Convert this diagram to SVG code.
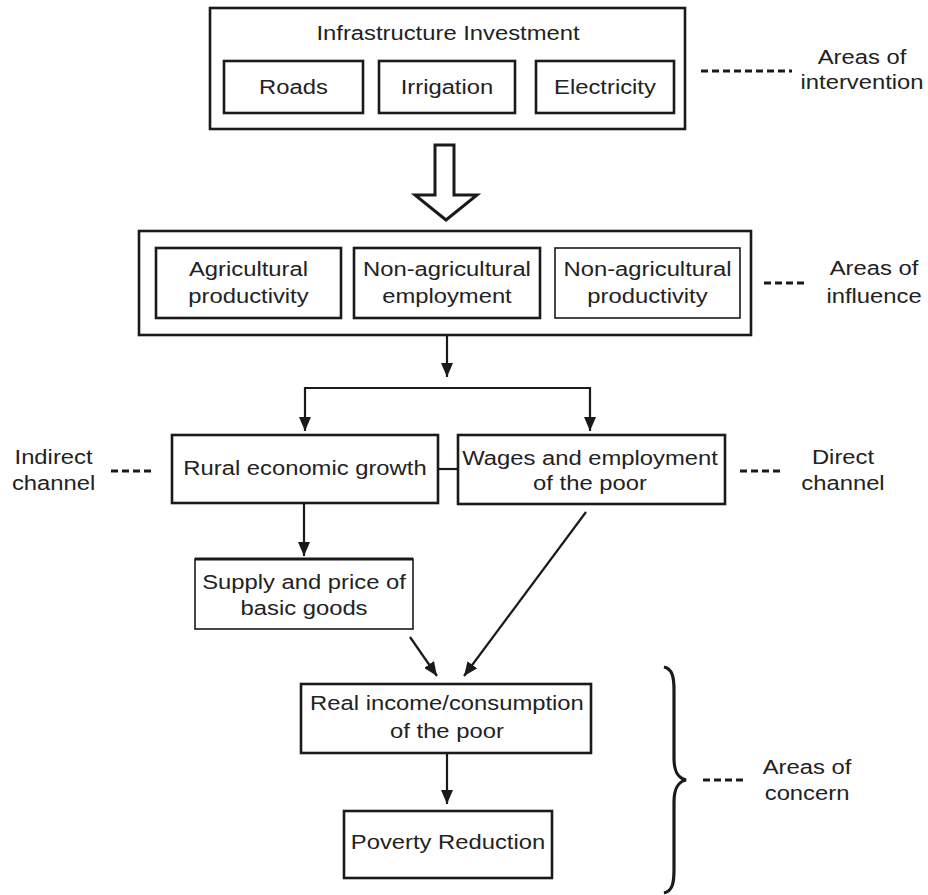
<svg xmlns="http://www.w3.org/2000/svg" width="928" height="895" viewBox="0 0 928 895">
<defs>
<style>
.box{fill:#fff;stroke:#1a1a1a;stroke-width:2.6}
.thin{fill:#fff;stroke:#1a1a1a;stroke-width:1.6}
.t{font-family:"Liberation Sans",Arial,sans-serif;font-size:20px;fill:#222;text-anchor:middle}
.c{fill:none;stroke:#1a1a1a;stroke-width:2.2}
.d{fill:none;stroke:#1a1a1a;stroke-width:3;stroke-dasharray:7 4}
</style>
<marker id="ah" viewBox="0 0 14 12" refX="14" refY="6" markerWidth="14" markerHeight="12" markerUnits="userSpaceOnUse" orient="auto">
<path d="M0,0 L14,6 L0,12 z" fill="#1a1a1a"/>
</marker>
</defs>
<rect width="928" height="895" fill="#fff"/>

<g id="infrastructure">
<rect class="box" x="210" y="8" width="475" height="121" stroke-width="3"/>
<text class="t" transform="scale(1.19 1)" x="376.5" y="40">Infrastructure Investment</text>
</g>
<g id="roads">
<rect class="box" x="224" y="61" width="139" height="52" stroke-width="3"/>
<text class="t" transform="scale(1.19 1)" x="246.6" y="94">Roads</text>
</g>
<g id="irrigation">
<rect class="box" x="379" y="61" width="136" height="52" stroke-width="3"/>
<text class="t" transform="scale(1.19 1)" x="375.6" y="94">Irrigation</text>
</g>
<g id="electricity">
<rect class="box" x="536" y="61" width="138" height="52" stroke-width="3"/>
<text class="t" transform="scale(1.19 1)" x="508.4" y="94">Electricity</text>
</g>
<g id="label-intervention">
<line class="d" x1="701" y1="71" x2="792" y2="71"/>
<text class="t" transform="scale(1.19 1)" x="724.4" y="64">Areas of</text>
<text class="t" transform="scale(1.19 1)" x="724.4" y="89">intervention</text>
</g>

<g id="influence">
<rect class="box" x="139" y="231" width="612" height="104" stroke-width="3"/>
</g>
<g id="agri-productivity">
<rect class="box" x="156" y="248" width="185" height="70"/>
<text class="t" transform="scale(1.19 1)" x="208.8" y="276">Agricultural</text>
<text class="t" transform="scale(1.19 1)" x="208.8" y="303">productivity</text>
</g>
<g id="nonagri-employment">
<rect class="box" x="354" y="248" width="186" height="70" stroke-width="3"/>
<text class="t" transform="scale(1.19 1)" x="375.6" y="276">Non-agricultural</text>
<text class="t" transform="scale(1.19 1)" x="375.6" y="303">employment</text>
</g>
<g id="nonagri-productivity">
<rect class="thin" x="555" y="248" width="185" height="70"/>
<text class="t" transform="scale(1.19 1)" x="544.1" y="276">Non-agricultural</text>
<text class="t" transform="scale(1.19 1)" x="544.1" y="303">productivity</text>
</g>
<g id="label-influence">
<line class="d" x1="764" y1="283" x2="807" y2="283" stroke-width="2"/>
<text class="t" transform="scale(1.19 1)" x="734.5" y="275">Areas of</text>
<text class="t" transform="scale(1.19 1)" x="734.5" y="303">influence</text>
</g>

<g id="rural-growth">
<rect class="box" x="172" y="435" width="266" height="68"/>
<text class="t" transform="scale(1.19 1)" x="256.3" y="475">Rural economic growth</text>
</g>
<g id="wages">
<rect class="box" x="458" y="435" width="267" height="69" stroke-width="3"/>
<text class="t" transform="scale(1.19 1)" x="495.8" y="465">Wages and employment</text>
<text class="t" transform="scale(1.19 1)" x="495.8" y="490">of the poor</text>
</g>
<g id="label-indirect">
<text class="t" transform="scale(1.19 1)" x="45" y="464">Indirect</text>
<text class="t" transform="scale(1.19 1)" x="45" y="490">channel</text>
<line class="d" x1="111" y1="471" x2="153" y2="471"/>
</g>
<g id="label-direct">
<line class="d" x1="740" y1="471" x2="783" y2="471"/>
<text class="t" transform="scale(1.19 1)" x="708.4" y="464">Direct</text>
<text class="t" transform="scale(1.19 1)" x="708.4" y="490">channel</text>
</g>

<g id="supply-price">
<rect class="thin" x="195" y="559" width="218" height="70"/>
<line x1="195" y1="559" x2="413" y2="559" stroke="#1a1a1a" stroke-width="3"/>
<text class="t" transform="scale(1.19 1)" x="255.5" y="589">Supply and price of</text>
<text class="t" transform="scale(1.19 1)" x="255.5" y="615">basic goods</text>
</g>
<g id="real-income">
<rect class="box" x="301" y="684" width="290" height="69"/>
<text class="t" transform="scale(1.19 1)" x="375.6" y="710">Real income/consumption</text>
<text class="t" transform="scale(1.19 1)" x="375.6" y="738">of the poor</text>
</g>
<g id="poverty-reduction">
<rect class="box" x="344" y="811" width="208" height="67" stroke-width="2.2"/>
<text class="t" transform="scale(1.19 1)" x="376.5" y="849">Poverty Reduction</text>
</g>
<g id="label-concern">
<path d="M664,667 C672,669 674,676 674,690 L674,758 C674,772 678,778 686,780 C678,782 674,788 674,802 L674,870 C674,884 672,891 664,893" fill="none" stroke="#1a1a1a" stroke-width="3.2"/>
<line class="d" x1="703" y1="780" x2="745" y2="780" stroke-width="2.4"/>
<text class="t" transform="scale(1.19 1)" x="678.2" y="774">Areas of</text>
<text class="t" transform="scale(1.19 1)" x="678.2" y="800">concern</text>
</g>

<g id="connectors">
<polygon points="435,145 454,145 454,195 477,195 446,220 415,195 435,195" fill="#fff" stroke="#1a1a1a" stroke-width="3" stroke-linejoin="miter"/>
<path class="c" d="M447,335 V377" marker-end="url(#ah)"/>
<path class="c" d="M448,388 H305 V431" marker-end="url(#ah)"/>
<path class="c" d="M446,388 H590 V431" marker-end="url(#ah)"/>
<path class="c" d="M438,469 H458" stroke-width="1.6"/>
<path class="c" d="M304,503 V556" marker-end="url(#ah)"/>
<path class="c" d="M410,637 L437,676" marker-end="url(#ah)"/>
<path class="c" d="M586,512 L464,676" marker-end="url(#ah)"/>
<path class="c" d="M447,753 V804" marker-end="url(#ah)"/>
</g>
</svg>
